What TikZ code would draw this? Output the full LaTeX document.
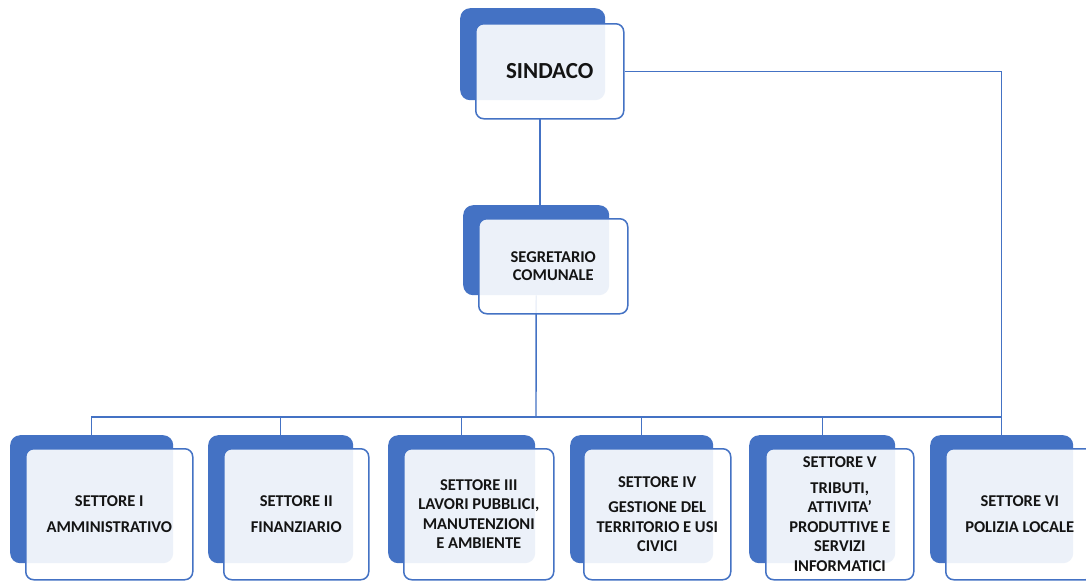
\documentclass[tikz,border=0pt]{standalone}
\usepackage{fontspec}
\setmainfont{Carlito}
\definecolor{ablue}{HTML}{4472C4}
\definecolor{txt}{HTML}{141414}
\tikzset{
  back/.style={anchor=north west,fill=ablue,draw=none,rounded corners=10pt,inner sep=0pt},
  front/.style={anchor=north west,fill=white,fill opacity=0.9,text opacity=1,draw=ablue,line width=1.5pt,rounded corners=8pt,inner sep=0pt,align=center,text=txt,font=\bfseries\fontsize{16.5}{19.5}\selectfont},
  conn/.style={draw=ablue,line width=1.4pt},
}
\newcommand{\gapline}{\\[6pt]}
\begin{document}
\begin{tikzpicture}[x=1pt,y=-1pt]
\useasboundingbox[fill=white] (0,0) rectangle (1086,581);
% back shapes
\node[back,minimum width=145pt,minimum height=92pt] (sindB) at (460,8) {};
\node[back,minimum width=146pt,minimum height=90pt] (segB) at (463,205) {};
\node[back,minimum width=163pt,minimum height=128pt] (b1B) at (10,435) {};
\node[back,minimum width=145pt,minimum height=128pt] (b2B) at (208,435) {};
\node[back,minimum width=147pt,minimum height=128pt] (b3B) at (388,435) {};
\node[back,minimum width=143pt,minimum height=128pt] (b4B) at (570,435) {};
\node[back,minimum width=146pt,minimum height=128pt] (b5B) at (749,435) {};
\node[back,minimum width=143pt,minimum height=128pt] (b6B) at (930,435) {};
% connectors (behind front boxes)
\coordinate (bus) at (536,417);
\coordinate (sindDrop) at (540,118);
\draw[conn] (sindDrop) -- (sindDrop |- segB.north);
\draw[conn] (segB.south) -- (bus);
\draw[conn] (b1B.north) |- (bus);
\draw[conn] (b2B.north) -- (b2B.north |- bus);
\draw[conn] (b3B.north) -- (b3B.north |- bus);
\draw[conn] (b4B.north) -- (b4B.north |- bus);
\draw[conn] (b5B.north) -- (b5B.north |- bus);
\draw[conn] (b6B.north) |- (bus);
% front boxes
\node[front,minimum width=148pt,minimum height=95pt,font=\bfseries\fontsize{23}{27}\selectfont] (sindF) at (475,23) {SINDACO};
\node[front,minimum width=149pt,minimum height=95pt,font=\bfseries\fontsize{16.5}{17.5}\selectfont] (segF) at (478,218) {SEGRETARIO\\COMUNALE};
\draw[conn] (sindF.east) -| (b6B.north);
\node[front,minimum width=167pt,minimum height=131pt] (b1F) at (25,448) {SETTORE I\gapline AMMINISTRATIVO};
\node[front,minimum width=145pt,minimum height=131pt] (b2F) at (223,448) {SETTORE II\gapline FINANZIARIO};
\node[front,minimum width=150pt,minimum height=131pt] (b3F) at (403,448) {SETTORE III\\LAVORI PUBBLICI,\\MANUTENZIONI\\E AMBIENTE};
\node[front,minimum width=147pt,minimum height=131pt] (b4F) at (583,448) {SETTORE IV\gapline GESTIONE DEL\\TERRITORIO E USI\\CIVICI};
\node[front,minimum width=148pt,minimum height=131pt] (b5F) at (765,448) {SETTORE V\gapline TRIBUTI,\\ATTIVITA'\\PRODUTTIVE E\\SERVIZI\\INFORMATICI};
\node[front,minimum width=148pt,minimum height=131pt] (b6F) at (945,448) {SETTORE VI\gapline POLIZIA LOCALE};
\end{tikzpicture}
\end{document}
